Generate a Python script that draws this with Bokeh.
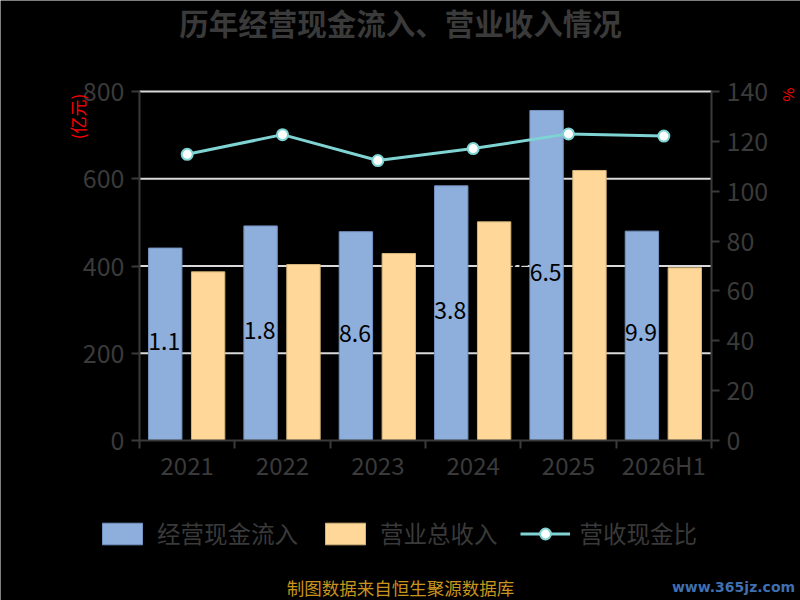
import math
from bokeh.plotting import figure
from bokeh.models import (Range1d, LinearAxis, FixedTicker, Legend, LegendItem,
                          ColumnDataSource, Label)
from bokeh.embed import file_html
from bokeh.resources import INLINE

categories = ["2021", "2022", "2023", "2024", "2025", "2026H1"]
cash_inflow = [441.1, 491.8, 478.6, 583.8, 756.5, 479.9]
revenue = [386.6, 403.4, 428.7, 501.2, 619.0, 395.9]
ratio = [114.8, 122.7, 112.3, 117.1, 123.0, 122.1]
left_ticks = [0, 200, 400, 600, 800]
right_ticks = [0, 20, 40, 60, 80, 100, 120, 140]

FONT = "Noto Sans CJK SC"
GRAY = "#3a3a3a"
BLUE = "#8eaedb"
ORANGE = "#ffd899"
TEAL = "#7fd3d3"

# canvas geometry (pixels): plot area spans x 139..711, y 91..440
CW, CH = 800, 600
PL, PR, PT, PB = 139, 711, 91, 440
n = len(categories)
LMAX, RMAX = left_ticks[-1], right_ticks[-1]
ux = (PR - PL) / n
uy = (PB - PT) / LMAX
ur = (PB - PT) / RMAX

centers = [i + 0.5 for i in range(n)]
x_blue = [c - 0.23 for c in centers]
x_orange = [c + 0.22 for c in centers]
src = ColumnDataSource(dict(
    cat=categories, xc=centers, xb=x_blue, xo=x_orange,
    cash=cash_inflow, rev=revenue, ratio=ratio,
    cash_mid=[v / 2 for v in cash_inflow],
    cash_txt=["%.1f" % v for v in cash_inflow],
))
grid_src = ColumnDataSource(dict(y=left_ticks[1:], x0=[0] * 4, x1=[n] * 4))

p = figure(title=None, frame_width=CW, frame_height=CH, min_border=0,
           x_range=Range1d(-PL / ux, n + (CW - PR) / ux),
           y_range=Range1d(-(CH - PB) / uy, LMAX + PT / uy),
           output_backend="svg", toolbar_location=None,
           background_fill_color="black", border_fill_color="black",
           outline_line_color=None)
p.extra_y_ranges = {"pct": Range1d(-(CH - PB) / ur, RMAX + PT / ur)}
p.xgrid.visible = False
p.ygrid.visible = False

# horizontal grid lines limited to the plot area
p.segment(x0="x0", x1="x1", y0="y", y1="y", source=grid_src,
          line_color="#d9d9d9", line_width=2)

# x axis
xa = p.xaxis[0]
xa.fixed_location = 0
xa.bounds = (0, n)
xa.ticker = FixedTicker(ticks=centers, minor_ticks=list(range(n + 1)))
xa.major_label_overrides = {c: lab for c, lab in zip(centers, categories)}
xa.major_tick_line_color = None
xa.major_tick_out = 0
xa.minor_tick_out = 8
xa.minor_tick_in = 0
xa.minor_tick_line_color = GRAY
xa.minor_tick_line_width = 2
xa.axis_line_color = GRAY
xa.axis_line_width = 2
xa.major_label_text_color = GRAY
xa.major_label_text_font = FONT
xa.major_label_text_font_size = "24px"
xa.major_label_standoff = -2


def style_y(ax, ticks):
    ax.ticker = FixedTicker(ticks=ticks)
    ax.bounds = (0, ticks[-1])
    ax.major_tick_out = 8
    ax.major_tick_in = 0
    ax.minor_tick_line_color = None
    ax.major_tick_line_color = GRAY
    ax.major_tick_line_width = 2
    ax.axis_line_color = GRAY
    ax.axis_line_width = 2
    ax.major_label_text_color = GRAY
    ax.major_label_text_font = FONT
    ax.major_label_text_font_size = "25px"
    ax.major_label_standoff = 7


ya = p.yaxis[0]
ya.fixed_location = 0
style_y(ya, left_ticks)
ra = LinearAxis(y_range_name="pct", fixed_location=n)
style_y(ra, right_ticks)
p.add_layout(ra, "right")

# bars and labels (labels sit under the orange bars)
rb = p.vbar(x="xb", top="cash", width=0.35, source=src, fill_color=BLUE,
            line_color="#7393c2", line_width=1)
p.text(x="xb", y="cash_mid", text="cash_txt", source=src, x_offset=15, y_offset=-3,
       text_align="right", text_baseline="middle", text_color="black",
       text_font={"value": FONT}, text_font_size="23px")
ro = p.vbar(x="xo", top="rev", width=0.35, source=src, fill_color=ORANGE,
            line_color="#d4b47c", line_width=1)

rl = p.line(x="xc", y="ratio", source=src, y_range_name="pct",
            line_color=TEAL, line_width=3)
rs = p.scatter(x="xc", y="ratio", source=src, y_range_name="pct", size=11,
               fill_color="white", line_color=TEAL, line_width=2)

# legend
legend = Legend(items=[
    LegendItem(label="经营现金流入", renderers=[rb]),
    LegendItem(label="营业总收入", renderers=[ro]),
    LegendItem(label="营收现金比", renderers=[rl, rs]),
], orientation="horizontal", location=(97, 50))
legend.glyph_width = 50
legend.glyph_height = 27
legend.label_standoff = 10
legend.spacing = 22
legend.padding = 0
legend.margin = 0
legend.background_fill_alpha = 0
legend.border_line_color = None
legend.label_text_color = GRAY
legend.label_text_font = FONT
legend.label_text_font_size = "23.5px"
p.add_layout(legend, "center")


def put(text, x, y, size, color, style="normal", angle=0.0, font=FONT):
    p.add_layout(Label(x=x, y=y, x_units="screen", y_units="screen", text=text,
                       angle=angle, text_align="center", text_baseline="middle",
                       text_color=color, text_font=font, text_font_size=size,
                       text_font_style=style))


put("历年经营现金流入、营业收入情况", 400, CH - 21, "29.5px", GRAY, "bold")
put("(亿元)", 77, CH - 116, "17px", "red", angle=math.pi / 2)
put("%", 787, CH - 94, "15px", "red", angle=math.pi / 2)
put("制图数据来自恒生聚源数据库", 400, CH - 587, "17.5px", "#c8941e")
put("www.365jz.com", 733, CH - 586, "14px", "#3f6fb0", "bold", font="DejaVu Sans")

open("out.html", "w").write(file_html(p, INLINE))
